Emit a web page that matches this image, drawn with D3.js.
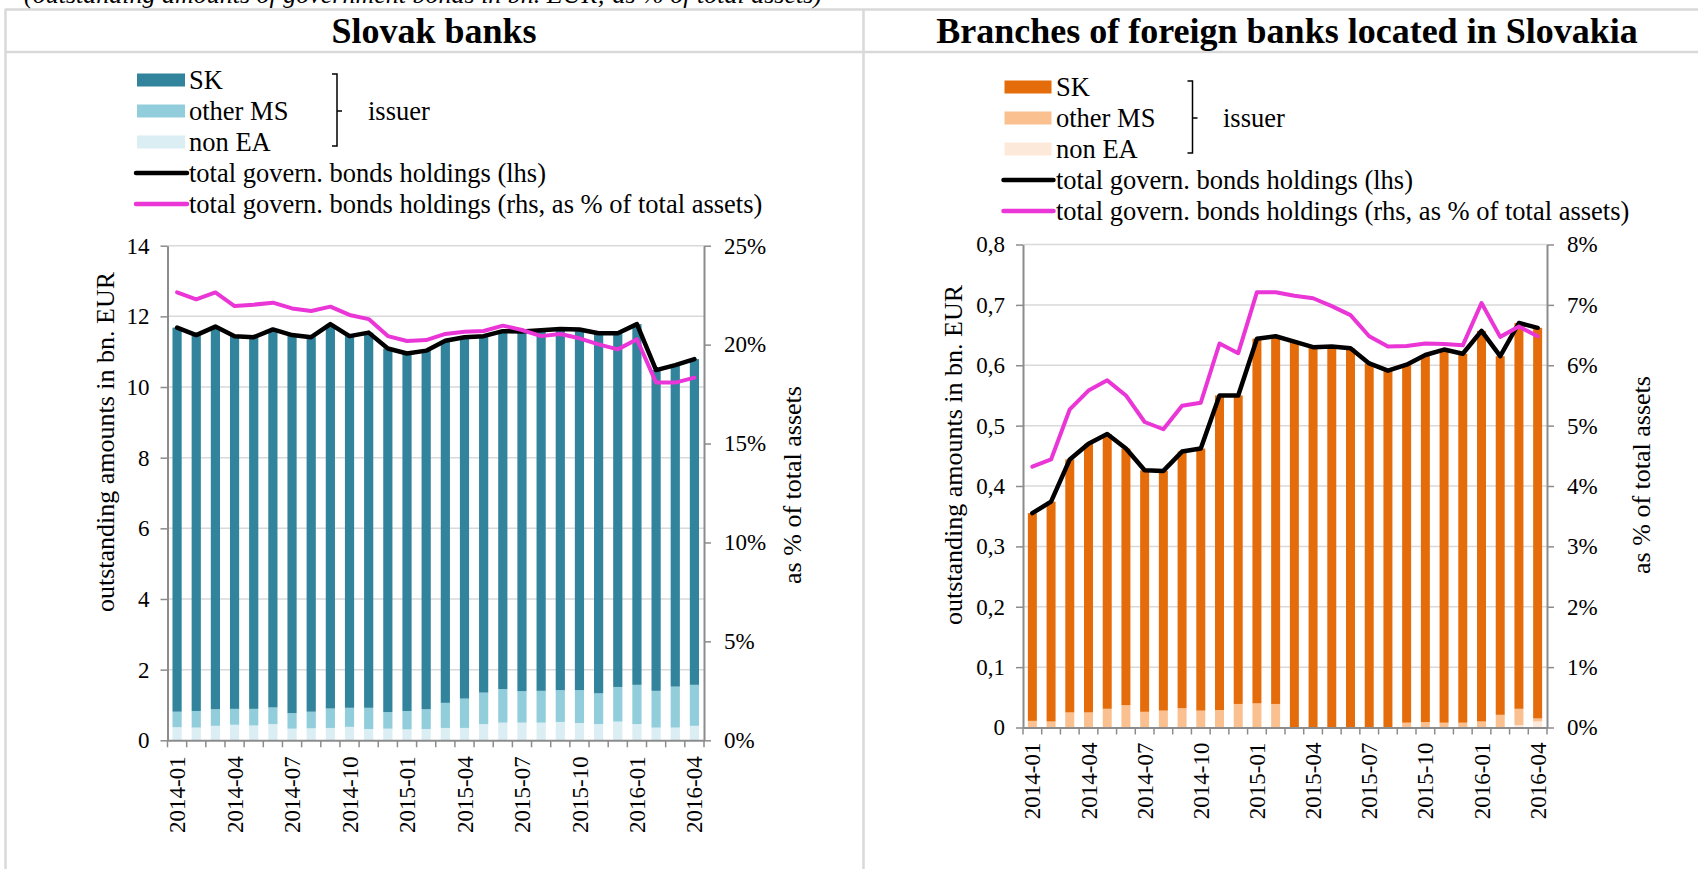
<!DOCTYPE html>
<html>
<head>
<meta charset="utf-8">
<script src="https://cdn.jsdelivr.net/npm/d3@7"></script>
<style>
  body { margin: 0; background: #fff; }
  svg { display: block; }
  text { font-family: "Liberation Serif", "Times New Roman", serif; fill: #000; }
</style>
</head>
<body>
<svg id="chart" width="1698" height="869"></svg>
<script>
// Monthly categories and the labelled ones on the x axis
const months = ["2014-01","2014-02","2014-03","2014-04","2014-05","2014-06","2014-07","2014-08","2014-09","2014-10","2014-11","2014-12",
                "2015-01","2015-02","2015-03","2015-04","2015-05","2015-06","2015-07","2015-08","2015-09","2015-10","2015-11","2015-12",
                "2016-01","2016-02","2016-03","2016-04"];
const monthTicks = ["2014-01","2014-04","2014-07","2014-10","2015-01","2015-04","2015-07","2015-10","2016-01","2016-04"];

// Slovak banks: government bond holdings by issuer (bn. EUR) and total as % of total assets
const slovakSK      = [10.87,10.64,10.83,10.55,10.52,10.70,10.70,10.60,10.88,10.52,10.62,10.29,10.12,10.15,10.25,10.23,10.09,10.13,10.18,10.21,10.22,10.21,10.19,10.01,10.21,9.08,9.10,9.22];
const slovakOtherMS = [0.44,0.47,0.47,0.45,0.47,0.47,0.44,0.47,0.55,0.54,0.60,0.47,0.52,0.56,0.71,0.83,0.89,0.95,0.89,0.90,0.90,0.93,0.87,0.98,1.11,1.04,1.16,1.16];
const slovakNonEA   = [0.37,0.36,0.41,0.44,0.42,0.46,0.33,0.34,0.35,0.38,0.32,0.33,0.31,0.32,0.35,0.35,0.46,0.50,0.50,0.50,0.52,0.49,0.46,0.53,0.46,0.36,0.36,0.41];
const slovakShare   = [22.64,22.29,22.64,21.95,22.02,22.12,21.83,21.70,21.92,21.50,21.29,20.43,20.18,20.23,20.54,20.65,20.69,20.96,20.74,20.43,20.54,20.32,20.01,19.76,20.27,18.08,18.08,18.33];

// Branches of foreign banks: government bond holdings by issuer (bn. EUR) and total as % of total assets
const branchSK      = [0.344,0.364,0.419,0.445,0.455,0.425,0.400,0.397,0.425,0.434,0.521,0.511,0.604,0.609,0.639,0.630,0.631,0.628,0.603,0.591,0.593,0.608,0.618,0.611,0.647,0.594,0.639,0.647];
const branchOtherMS = [0.011,0.010,0.025,0.025,0.031,0.037,0.026,0.028,0.032,0.028,0.029,0.039,0.040,0.039,0,0,0,0,0,0,0.008,0.009,0.008,0.008,0.010,0.021,0.027,0.005];
const branchNonEA   = [0,0,0,0,0,0,0,0,0,0,0,0,0,0,0,0,0,0,0,0,0,0,0,0,0,0,0.004,0.010];
const branchShare   = [4.32,4.44,5.27,5.58,5.75,5.50,5.06,4.94,5.33,5.38,6.36,6.20,7.21,7.21,7.15,7.11,6.98,6.83,6.48,6.31,6.32,6.36,6.35,6.33,7.03,6.47,6.64,6.48];

// Axis tick values
const slovakAmountTicks = [0,2,4,6,8,10,12,14];
const slovakShareTicks  = [0,5,10,15,20,25];
const branchAmountTicks = [0,0.1,0.2,0.3,0.4,0.5,0.6,0.7,0.8];
const branchShareTicks  = [0,1,2,3,4,5,6,7,8];

const legendLabels = ["SK", "other MS", "non EA"];
const lineLabels = ["total govern. bonds holdings (lhs)", "total govern. bonds holdings (rhs, as % of total assets)"];

const svg = d3.select("#chart");
const AXIS = "#8c8c8c", GRID = "#d9d9d9", FRAME = "#d9d9d9";
const PINK = "#ea36d6";

svg.append("rect").attr("width", 1698).attr("height", 869).attr("fill", "#fff");

// Table frame around the two panels
const frame = svg.append("g").attr("stroke", FRAME).attr("stroke-width", 2.5);
frame.append("line").attr("x1", 5).attr("x2", 1698).attr("y1", 9.5).attr("y2", 9.5);
frame.append("line").attr("x1", 5).attr("x2", 1698).attr("y1", 52).attr("y2", 52);
frame.append("line").attr("x1", 5.5).attr("x2", 5.5).attr("y1", 9).attr("y2", 869);
frame.append("line").attr("x1", 863.5).attr("x2", 863.5).attr("y1", 9).attr("y2", 869);

// Subtitle line, cut by the top of the page
svg.append("text").attr("x", 24).attr("y", 2.5).attr("font-size", 26).attr("font-style", "italic")
  .text("(outstanding amounts of government bonds in bn. EUR; as % of total assets)");

function drawPanel(p) {
  const g = svg.append("g");

  g.append("text").attr("x", p.titleX).attr("y", 43).attr("text-anchor", "middle")
    .attr("font-size", 36).attr("font-weight", "bold").text(p.title);

  const x = d3.scaleBand().domain(months).range([p.left, p.right]).paddingInner(0.52).paddingOuter(0.26);
  const yL = d3.scaleLinear().domain([0, p.lMax]).range([p.bottom, p.top]);
  const yR = d3.scaleLinear().domain([0, p.rMax]).range([p.bottom, p.top]);
  const cx = m => x(m) + x.bandwidth() / 2;

  // horizontal gridlines
  g.append("g").selectAll("line").data(p.lTicks.filter(d => d > 0)).join("line")
    .attr("x1", p.left).attr("x2", p.right)
    .attr("y1", d => yL(d)).attr("y2", d => yL(d))
    .attr("stroke", GRID).attr("stroke-width", 1.5);

  // stacked bars: non EA at the bottom, then other MS, then SK
  const rows = months.map((m, i) => ({ month: m, SK: p.sk[i], MS: p.ms[i], EA: p.ea[i] }));
  const keys = ["EA", "MS", "SK"];
  const layers = d3.stack().keys(keys)(rows);
  g.append("g").selectAll("g").data(layers).join("g")
    .attr("fill", d => p.colors[d.key])
    .selectAll("rect").data(d => d).join("rect")
    .attr("x", d => x(d.data.month))
    .attr("width", x.bandwidth())
    .attr("y", d => yL(d[1]))
    .attr("height", d => yL(d[0]) - yL(d[1]));

  // axes
  const left = g.append("g").attr("transform", `translate(${p.left},0)`)
    .call(d3.axisLeft(yL).tickValues(p.lTicks).tickSize(7).tickSizeOuter(0).tickPadding(11).tickFormat(p.lFmt));
  const right = g.append("g").attr("transform", `translate(${p.right},0)`)
    .call(d3.axisRight(yR).tickValues(p.rTicks).tickSize(7).tickSizeOuter(0).tickPadding(13).tickFormat(d => d + "%"));
  const bottom = g.append("g").attr("transform", `translate(0,${p.bottom})`)
    .call(d3.axisBottom(x).tickValues(monthTicks).tickSize(0).tickSizeOuter(0).tickPadding(0));
  bottom.selectAll(".tick text")
    .attr("transform", "rotate(-90)").attr("text-anchor", "end")
    .attr("x", -p.xLabelGap).attr("y", 0).attr("dy", "0.35em");

  // x-axis ticks at category boundaries
  const gap = (x.step() - x.bandwidth()) / 2;
  const edges = months.map(m => x(m) - gap).concat([p.right]);
  g.append("g").selectAll("line").data(edges).join("line")
    .attr("x1", d => d).attr("x2", d => d)
    .attr("y1", p.bottom).attr("y2", p.bottom + 7)
    .attr("stroke", AXIS).attr("stroke-width", 1.5);

  [left, right, bottom].forEach(a => {
    a.select(".domain").attr("stroke", AXIS).attr("stroke-width", 2);
    a.selectAll(".tick line").attr("stroke", AXIS).attr("stroke-width", 1.5);
    a.selectAll("text").attr("font-family", '"Liberation Serif", serif').attr("font-size", 23).attr("fill", "#000");
  });

  // total holdings (lhs) and share of total assets (rhs)
  const totals = rows.map(r => r.SK + r.MS + r.EA);
  g.append("path").datum(totals)
    .attr("d", d3.line().x((d, i) => cx(months[i])).y(d => yL(d)))
    .attr("fill", "none").attr("stroke", "#000").attr("stroke-width", 4.5)
    .attr("stroke-linejoin", "round").attr("stroke-linecap", "round");
  g.append("path").datum(p.share)
    .attr("d", d3.line().x((d, i) => cx(months[i])).y(d => yR(d)))
    .attr("fill", "none").attr("stroke", PINK).attr("stroke-width", 4)
    .attr("stroke-linejoin", "round").attr("stroke-linecap", "round");

  // axis titles
  g.append("text").attr("transform", `translate(${p.lTitle[0]},${p.lTitle[1]}) rotate(-90)`)
    .attr("text-anchor", "middle").attr("dy", "0.33em").attr("font-size", 26)
    .text("outstanding amounts in bn. EUR");
  g.append("text").attr("transform", `translate(${p.rTitle[0]},${p.rTitle[1]}) rotate(-90)`)
    .attr("text-anchor", "middle").attr("dy", "0.33em").attr("font-size", 26)
    .text("as % of total assets");

  // legend
  const L = p.legend;
  const lg = g.append("g").attr("font-size", 26.5);
  legendLabels.forEach((lab, i) => {
    const yy = L.y + i * L.dy;
    lg.append("rect").attr("x", L.x).attr("y", yy - 6.5).attr("width", L.w).attr("height", 13)
      .attr("fill", p.colors[["SK", "MS", "EA"][i]]);
    lg.append("text").attr("x", L.tx).attr("y", yy).attr("dy", "0.33em").text(lab);
  });
  lineLabels.forEach((lab, i) => {
    const yy = L.y + (3 + i) * L.dy;
    lg.append("line").attr("x1", L.x - 1).attr("x2", L.x + L.w + 2).attr("y1", yy).attr("y2", yy)
      .attr("stroke", i === 0 ? "#000" : PINK).attr("stroke-width", 4.5).attr("stroke-linecap", "round");
    lg.append("text").attr("x", L.tx).attr("y", yy).attr("dy", "0.33em").text(lab);
  });
  const bx = L.bx, by0 = L.y - 6, by1 = L.y + 2 * L.dy + 4, bm = L.y + L.dy;
  lg.append("path")
    .attr("d", `M${bx},${by0}H${bx + 5}V${by1}H${bx}M${bx + 5},${bm}H${bx + 10}`)
    .attr("fill", "none").attr("stroke", "#000").attr("stroke-width", 1.5);
  lg.append("text").attr("x", L.ix).attr("y", bm).attr("dy", "0.33em").text("issuer");
}

drawPanel({
  title: "Slovak banks", titleX: 434,
  left: 167.5, right: 704, top: 245.7, bottom: 740.3,
  lMax: 14, rMax: 25, lTicks: slovakAmountTicks, rTicks: slovakShareTicks,
  lFmt: d => String(d),
  sk: slovakSK, ms: slovakOtherMS, ea: slovakNonEA, share: slovakShare,
  colors: { SK: "#31849b", MS: "#92cddc", EA: "#daeef3" },
  xLabelGap: 16,
  lTitle: [105, 442], rTitle: [792, 485],
  legend: { x: 137, w: 48, tx: 189, y: 80, dy: 31, bx: 332, ix: 368 }
});

drawPanel({
  title: "Branches of foreign banks located in Slovakia", titleX: 1287,
  left: 1023, right: 1547, top: 244.5, bottom: 727.5,
  lMax: 0.8, rMax: 8, lTicks: branchAmountTicks, rTicks: branchShareTicks,
  lFmt: d => d === 0 ? "0" : d3.format(".1f")(d).replace(".", ","),
  sk: branchSK, ms: branchOtherMS, ea: branchNonEA, share: branchShare,
  colors: { SK: "#e46c0a", MS: "#fac090", EA: "#fde9d9" },
  xLabelGap: 15,
  lTitle: [953, 455], rTitle: [1641, 475],
  legend: { x: 1004.5, w: 47, tx: 1056, y: 87, dy: 31, bx: 1187.5, ix: 1223 }
});
</script>
</body>
</html>
